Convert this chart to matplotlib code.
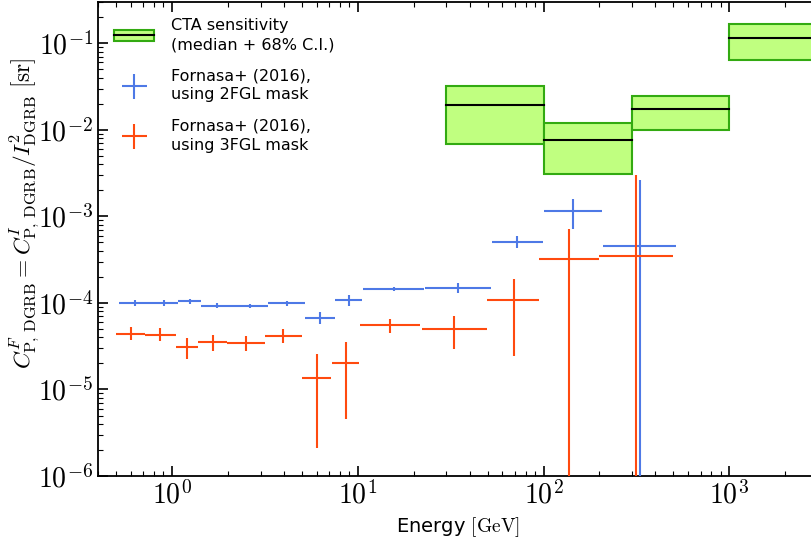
import matplotlib
matplotlib.use("Agg")
import matplotlib.pyplot as plt
from matplotlib.patches import Patch, Rectangle
from matplotlib.lines import Line2D
from matplotlib.ticker import FuncFormatter, NullFormatter
import numpy as np

plt.rcParams['mathtext.fontset'] = 'cm'
plt.rcParams['font.family'] = ['DejaVu Sans']

# CTA sensitivity bins (GeV) : median and 68% C.I.
cta_emin = [30, 100, 300, 1000]
cta_emax = [100, 300, 1000, 5000]
cta_med = [0.0192, 0.0076, 0.0172, 0.115]
cta_lo = [0.0068, 0.0031, 0.0099, 0.0645]
cta_hi = [0.0318, 0.0119, 0.0243, 0.165]

# Fornasa+ (2016), 2FGL mask
e_2fgl = [0.63, 0.91, 1.25, 1.74, 2.63, 4.18, 6.27, 9.02, 15.7, 34.8, 72.4, 144, 332]
elo_2fgl = [0.52, 0.75, 1.08, 1.43, 2.07, 3.28, 5.17, 7.56, 10.7, 23.1, 52.8, 100, 210]
ehi_2fgl = [0.75, 1.08, 1.43, 2.07, 3.28, 5.17, 7.56, 10.6, 22.6, 51.9, 99.1, 206, 517]
c_2fgl = [1.0e-4, 1.0e-4, 1.04e-4, 9.3e-5, 9.3e-5, 9.9e-5, 6.7e-5, 1.07e-4, 1.45e-4, 1.47e-4, 5.1e-4, 1.15e-3, 4.5e-4]
cup_2fgl = [1.07e-4, 1.07e-4, 1.10e-4, 9.9e-5, 9.8e-5, 1.05e-4, 7.9e-5, 1.23e-4, 1.53e-4, 1.69e-4, 6.0e-4, 1.57e-3, 2.64e-3]
clo_2fgl = [0.93e-4, 0.93e-4, 0.98e-4, 8.7e-5, 8.8e-5, 9.3e-5, 5.7e-5, 9.3e-5, 1.37e-4, 1.29e-4, 4.3e-4, 7.1e-4, 0.0]

# Fornasa+ (2016), 3FGL mask
e_3fgl = [0.60, 0.86, 1.20, 1.66, 2.51, 3.98, 6.02, 8.63, 14.9, 33.0, 69.3, 137, 316]
elo_3fgl = [0.50, 0.72, 1.05, 1.38, 1.97, 3.15, 5.04, 7.26, 10.3, 22.1, 49.9, 95, 200]
ehi_3fgl = [0.72, 1.05, 1.38, 1.97, 3.15, 5.0, 7.18, 10.2, 21.7, 49.9, 95.1, 199, 497]
c_3fgl = [4.43e-5, 4.3e-5, 3.1e-5, 3.58e-5, 3.45e-5, 4.2e-5, 1.36e-5, 2.03e-5, 5.56e-5, 5.0e-5, 1.08e-4, 3.24e-4, 3.5e-4]
cup_3fgl = [5.3e-5, 5.1e-5, 3.98e-5, 4.3e-5, 4.12e-5, 5.0e-5, 2.54e-5, 3.55e-5, 6.56e-5, 7.0e-5, 1.89e-4, 7.2e-4, 3.0e-3]
clo_3fgl = [3.7e-5, 3.6e-5, 2.24e-5, 2.79e-5, 2.79e-5, 3.44e-5, 2.1e-6, 4.5e-6, 4.5e-5, 2.94e-5, 2.44e-5, 0.0, 0.0]

blue = '#4e79e6'
red = '#ff4a0f'
green_fill = '#c0ff80'
green_edge = '#33aa11'

fig = plt.figure(figsize=(8.12, 5.40), dpi=100)
ax = fig.add_axes([98 / 812, (540 - 476) / 540, (818 - 98) / 812, (476 - 2) / 540])

for lo, hi, m, a, b in zip(cta_emin, cta_emax, cta_med, cta_lo, cta_hi):
    ax.add_patch(Rectangle((lo, a), hi - lo, b - a, facecolor=green_fill,
                           edgecolor=green_edge, lw=1.5, zorder=2))
    ax.plot([lo, hi], [m, m], color='k', lw=1.5, zorder=3)


def draw(e, elo, ehi, c, clo, cup, col):
    e = np.array(e)
    c = np.array(c)
    xerr = [e - np.array(elo), np.array(ehi) - e]
    yerr = [c - np.array(clo), np.array(cup) - c]
    ax.errorbar(e, c, xerr=xerr, yerr=yerr, fmt='none', ecolor=col,
                elinewidth=1.5, capsize=0, zorder=4)


draw(e_2fgl, elo_2fgl, ehi_2fgl, c_2fgl, clo_2fgl, cup_2fgl, blue)
draw(e_3fgl, elo_3fgl, ehi_3fgl, c_3fgl, clo_3fgl, cup_3fgl, red)

ax.set_xscale('log')
ax.set_yscale('log', nonpositive='clip')
ax.set_xlim(0.4, 3000)
ax.set_ylim(1e-6, 0.3)

pow_fmt = FuncFormatter(lambda v, p: r'$10^{%d}$' % int(round(np.log10(v))))
ax.xaxis.set_major_formatter(pow_fmt)
ax.yaxis.set_major_formatter(pow_fmt)
ax.xaxis.set_minor_formatter(NullFormatter())
ax.yaxis.set_minor_formatter(NullFormatter())

ax.tick_params(which='both', direction='in', top=True, right=False)
ax.tick_params(which='major', length=7, width=1.2, labelsize=20)
ax.tick_params(which='minor', length=3.5, width=0.8)
for s in ax.spines.values():
    s.set_linewidth(1.3)

ax.set_xlabel(r'Energy $[\mathrm{GeV}]$', fontsize=14)
ax.set_ylabel(r'$C^F_{\rm P,\,DGRB} = C^I_{\rm P,\,DGRB}/I^2_{\rm DGRB}\ [\mathrm{sr}]$',
              fontsize=16.8)
ax.yaxis.set_label_coords(-0.078, 0.555)

h_cta = (Patch(facecolor=green_fill, edgecolor=green_edge, lw=1.5),
         Line2D([], [], color='k', lw=1.5))
h_2 = Line2D([], [], color=blue, marker='+', markersize=18, mew=1.5, ls='none')
h_3 = Line2D([], [], color=red, marker='+', markersize=18, mew=1.5, ls='none')
leg = ax.legend([h_cta, h_2, h_3],
                ['CTA sensitivity\n(median + 68% C.I.)',
                 'Fornasa+ (2016),\nusing 2FGL mask',
                 'Fornasa+ (2016),\nusing 3FGL mask'],
                loc='upper left', frameon=False, fontsize=11.5, handlelength=2.5,
                handletextpad=1.1, labelspacing=1.0, borderaxespad=0.6)
for t in leg.get_texts():
    t.set_linespacing(1.35)

fig.savefig('out.png', dpi=100)
